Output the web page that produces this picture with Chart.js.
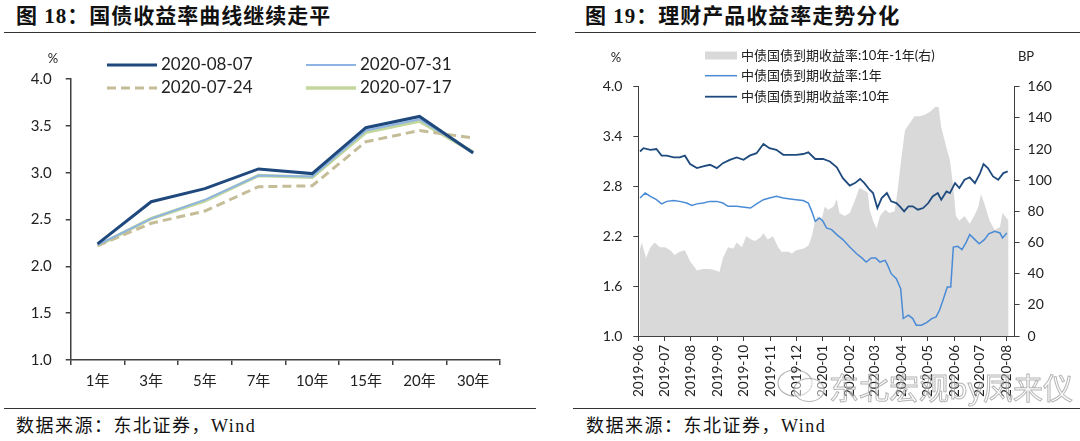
<!DOCTYPE html>
<html>
<head>
<meta charset="utf-8">
<script src="https://cdn.jsdelivr.net/npm/chart.js@4.4.0/dist/chart.umd.min.js"></script>
<style>
    body { margin: 0; width: 1080px; height: 441px; background: #fff; position: relative; overflow: hidden; }
    .title { position: absolute; top: 4px; font: bold 21px "Liberation Serif", "Noto Sans CJK SC"; line-height: 24px; letter-spacing: 1px; color: #111; white-space: nowrap; }
    .rule { position: absolute; height: 0; border-top: 1.5px solid #333; }
    .source { position: absolute; top: 414px; font: 18px "Liberation Serif", "Noto Sans CJK SC"; line-height: 24px; letter-spacing: 1.5px; color: #111; white-space: nowrap; }
    .watermark { position: absolute; left: 829px; top: 368px; font: 30px "Noto Sans CJK SC"; line-height: 36px; color: rgba(255,255,255,0.3); -webkit-text-stroke: 1px rgba(150,150,150,0.7); white-space: nowrap; }
    canvas { position: absolute; top: 0; }
</style>
</head>
<body>
<div class="title" style="left:16px">图 18：国债收益率曲线继续走平</div>
<div class="title" style="left:585px">图 19：理财产品收益率走势分化</div>
<div class="rule" style="left:4px; width:532px; top:32px"></div>
<div class="rule" style="left:575px; width:505px; top:32px"></div>
<div class="rule" style="left:4px; width:532px; top:408px"></div>
<div class="rule" style="left:573px; width:507px; top:408px"></div>
<div class="source" style="left:16px">数据来源：东北证券，Wind</div>
<div class="source" style="left:586px">数据来源：东北证券，Wind</div>

<canvas id="curve-chart" width="540" height="441" style="left:0"></canvas>
<canvas id="trend-chart" width="540" height="441" style="left:540px"></canvas>

<svg style="position:absolute; left:776px; top:368px" width="52" height="36">
    <ellipse cx="19" cy="15" rx="17" ry="13" fill="none" stroke="rgba(150,150,150,0.7)" stroke-width="1.2"/>
    <ellipse cx="33" cy="22" rx="15" ry="11.5" fill="rgba(255,255,255,0.5)" stroke="rgba(150,150,150,0.7)" stroke-width="1.2"/>
</svg>
<div class="watermark">东北宏观by凤来仪</div>

<script>
const FONT = 'Lato, "Noto Sans CJK SC", sans-serif';

/* figure 18 data: yield curves */
const tenors = ["1年", "3年", "5年", "7年", "10年", "15年", "20年", "30年"];
const curve0807 = [2.24, 2.69, 2.83, 3.04, 2.99, 3.48, 3.60, 3.21];
const curve0731 = [2.23, 2.51, 2.71, 2.97, 2.96, 3.45, 3.57, 3.22];
const curve0724 = [2.22, 2.46, 2.59, 2.85, 2.86, 3.33, 3.45, 3.37];
const curve0717 = [2.22, 2.51, 2.70, 2.97, 2.95, 3.43, 3.55, 3.22];

/* figure 19 data: 1y / 10y yields and the spread */
const monthLabels = ["2019-06", "2019-07", "2019-08", "2019-09", "2019-10", "2019-11", "2019-12",
    "2020-01", "2020-02", "2020-03", "2020-04", "2020-05", "2020-06", "2020-07", "2020-08"];
const leftTicks = [1.0, 1.6, 2.2, 2.8, 3.4, 4.0];

const yield10yDates = ["2019-06-03", "2019-06-07", "2019-06-15", "2019-06-22", "2019-06-28", "2019-07-04", "2019-07-12",
    "2019-07-19", "2019-07-25", "2019-07-31", "2019-08-08", "2019-08-15", "2019-08-23", "2019-08-31", "2019-09-07",
    "2019-09-15", "2019-09-23", "2019-10-01", "2019-10-08", "2019-10-16", "2019-10-24", "2019-10-31", "2019-11-08",
    "2019-11-16", "2019-11-24", "2019-12-01", "2019-12-09", "2019-12-15", "2019-12-23", "2020-01-01", "2020-01-09",
    "2020-01-17", "2020-01-24", "2020-02-01", "2020-02-07", "2020-02-13", "2020-02-18", "2020-02-24", "2020-02-28",
    "2020-03-04", "2020-03-09", "2020-03-15", "2020-03-20", "2020-03-26", "2020-03-30", "2020-04-04", "2020-04-09",
    "2020-04-14", "2020-04-20", "2020-04-26", "2020-05-02", "2020-05-07", "2020-05-13", "2020-05-17", "2020-05-23",
    "2020-05-27", "2020-06-02", "2020-06-07", "2020-06-13", "2020-06-19", "2020-06-25", "2020-07-01", "2020-07-05",
    "2020-07-10", "2020-07-16", "2020-07-22", "2020-07-28", "2020-08-02"];
const yield10y = [3.22, 3.26, 3.24, 3.25, 3.17, 3.17, 3.15, 3.15, 3.17, 3.07, 3.02, 3.04, 3.06, 3.02, 3.08,
    3.12, 3.15, 3.12, 3.17, 3.20, 3.31, 3.26, 3.24, 3.18, 3.18, 3.18, 3.19, 3.21, 3.13, 3.13, 3.10,
    3.03, 2.90, 2.81, 2.84, 2.89, 2.84, 2.76, 2.72, 2.54, 2.66, 2.72, 2.62, 2.60, 2.56, 2.50, 2.56,
    2.56, 2.52, 2.54, 2.60, 2.68, 2.72, 2.64, 2.74, 2.72, 2.84, 2.78, 2.88, 2.91, 2.84, 2.96, 3.07,
    3.02, 2.92, 2.88, 2.96, 2.98];

const yield1yDates = ["2019-06-03", "2019-06-09", "2019-06-15", "2019-06-22", "2019-06-28", "2019-07-04", "2019-07-12",
    "2019-07-19", "2019-07-27", "2019-08-02", "2019-08-08", "2019-08-15", "2019-08-23", "2019-08-31", "2019-09-07",
    "2019-09-13", "2019-09-23", "2019-10-02", "2019-10-09", "2019-10-16", "2019-10-24", "2019-10-31", "2019-11-08",
    "2019-11-16", "2019-11-24", "2019-12-01", "2019-12-09", "2019-12-15", "2019-12-19", "2019-12-23", "2019-12-28",
    "2020-01-01", "2020-01-05", "2020-01-11", "2020-01-17", "2020-01-24", "2020-02-01", "2020-02-09", "2020-02-15",
    "2020-02-20", "2020-02-26", "2020-03-02", "2020-03-07", "2020-03-13", "2020-03-16", "2020-03-20", "2020-03-26",
    "2020-03-31", "2020-04-03", "2020-04-09", "2020-04-14", "2020-04-18", "2020-04-24", "2020-04-30", "2020-05-06",
    "2020-05-11", "2020-05-15", "2020-05-19", "2020-05-24", "2020-05-28", "2020-05-31", "2020-06-05", "2020-06-10",
    "2020-06-15", "2020-06-19", "2020-06-25", "2020-06-30", "2020-07-06", "2020-07-11", "2020-07-18", "2020-07-24",
    "2020-07-27", "2020-08-01"];
const yield1y = [2.66, 2.72, 2.68, 2.64, 2.59, 2.62, 2.63, 2.62, 2.60, 2.57, 2.59, 2.60, 2.62, 2.62, 2.60,
    2.56, 2.56, 2.55, 2.54, 2.59, 2.64, 2.66, 2.68, 2.66, 2.65, 2.64, 2.63, 2.60, 2.50, 2.38, 2.42,
    2.38, 2.30, 2.28, 2.22, 2.16, 2.07, 1.99, 1.94, 1.89, 1.94, 1.94, 1.89, 1.91, 1.85, 1.75, 1.69,
    1.57, 1.21, 1.25, 1.21, 1.13, 1.13, 1.16, 1.21, 1.23, 1.31, 1.43, 1.59, 1.59, 2.07, 2.08, 2.04,
    2.13, 2.22, 2.16, 2.11, 2.16, 2.23, 2.26, 2.24, 2.18, 2.24];

const spreadDates = ["2019-06-03", "2019-06-05", "2019-06-10", "2019-06-15", "2019-06-20", "2019-06-26", "2019-07-02",
    "2019-07-08", "2019-07-13", "2019-07-19", "2019-07-25", "2019-07-31", "2019-08-08", "2019-08-15", "2019-08-23",
    "2019-08-30", "2019-09-03", "2019-09-07", "2019-09-13", "2019-09-19", "2019-09-23", "2019-09-29", "2019-10-04",
    "2019-10-10", "2019-10-14", "2019-10-20", "2019-10-24", "2019-10-29", "2019-11-04", "2019-11-10", "2019-11-14",
    "2019-11-22", "2019-11-26", "2019-12-01", "2019-12-09", "2019-12-15", "2019-12-19", "2019-12-23", "2019-12-26",
    "2019-12-30", "2020-01-03", "2020-01-07", "2020-01-13", "2020-01-17", "2020-01-20", "2020-01-26", "2020-02-01",
    "2020-02-07", "2020-02-12", "2020-02-16", "2020-02-22", "2020-02-24", "2020-02-28", "2020-03-03", "2020-03-07",
    "2020-03-13", "2020-03-18", "2020-03-24", "2020-03-28", "2020-04-01", "2020-04-05", "2020-04-11", "2020-04-16",
    "2020-04-22", "2020-04-28", "2020-05-04", "2020-05-10", "2020-05-14", "2020-05-17", "2020-05-23", "2020-05-27",
    "2020-05-31", "2020-06-03", "2020-06-07", "2020-06-13", "2020-06-19", "2020-06-25", "2020-06-29", "2020-07-02",
    "2020-07-06", "2020-07-12", "2020-07-18", "2020-07-24", "2020-07-27", "2020-08-03"];
const spreadBP = [56, 60, 50, 57, 60, 57, 57, 55, 52, 54, 55, 48, 42, 43, 43,
    42, 41, 50, 57, 56, 60, 57, 64, 62, 61, 63, 66, 62, 64, 57, 54,
    54, 53, 55, 56, 58, 64, 74, 77, 74, 83, 81, 83, 88, 79, 77, 79,
    87, 95, 94, 92, 81, 74, 69, 77, 81, 79, 80, 96, 115, 132, 137, 141,
    141, 142, 144, 147, 147, 134, 121, 113, 96, 77, 74, 77, 72, 78, 83, 91,
    85, 74, 68, 70, 79, 74];

/*
    legend drawn at fixed spots, reading colours from the datasets
*/
const fixedLegend = {
    id: "fixedLegend",
    afterDraw(chart, args, opts) {
        const ctx = chart.ctx;
        ctx.save();
        ctx.font = opts.font;
        ctx.textBaseline = "middle";
        opts.items.forEach(item => {
            const ds = chart.data.datasets[item.dataset];
            if (item.box) {
                ctx.fillStyle = ds.backgroundColor;
                ctx.fillRect(item.x, item.y - item.box / 2, opts.symbolWidth, item.box);
            } else {
                ctx.beginPath();
                ctx.strokeStyle = ds.borderColor;
                ctx.lineWidth = ds.borderWidth;
                ctx.setLineDash(ds.borderDash || []);
                ctx.moveTo(item.x, item.y);
                ctx.lineTo(item.x + opts.symbolWidth, item.y);
                ctx.stroke();
                ctx.setLineDash([]);
            }
            ctx.fillStyle = opts.color;
            ctx.textAlign = "left";
            ctx.fillText(ds.label, item.x + opts.symbolWidth + opts.gap, item.y);
        });
        ctx.font = opts.unitFont;
        ctx.textAlign = "center";
        opts.units.forEach(u => ctx.fillText(u.text, u.x, u.y));
        ctx.restore();
    }
};

const axisGrid = { drawOnChartArea: false, drawTicks: true, tickLength: 5, color: "#404040" };

/*
    figure 18: yield curve
*/
const curveCtx = document.getElementById("curve-chart").getContext("2d");
new Chart(curveCtx, {
    type: "line",
    data: {
        labels: tenors,
        datasets: [
            { label: "2020-08-07", data: curve0807, borderColor: "#1F497D", borderWidth: 3 },
            { label: "2020-07-31", data: curve0731, borderColor: "#8DB4E2", borderWidth: 2 },
            { label: "2020-07-24", data: curve0724, borderColor: "#C4BD97", borderWidth: 3, borderDash: [9, 5] },
            { label: "2020-07-17", data: curve0717, borderColor: "#C3D69B", borderWidth: 3.5 }
        ]
    },
    options: {
        responsive: false,
        animation: false,
        devicePixelRatio: 1,
        elements: { point: { radius: 0 }, line: { tension: 0 } },
        layout: { padding: { left: 0, right: 40, top: 79, bottom: 0 } },
        scales: {
            x: {
                offset: true,
                grid: { ...axisGrid, offset: true, lineWidth: 1.5 },
                border: { color: "#404040", width: 1.5 },
                ticks: { font: { family: FONT, size: 15 }, color: "#222", padding: 7, maxRotation: 0 },
                afterFit(scale) { scale.height = 81; }
            },
            y: {
                min: 1,
                max: 4,
                grid: { ...axisGrid, lineWidth: 1.5 },
                border: { color: "#404040", width: 1.5 },
                ticks: { stepSize: 0.5, font: { family: FONT, size: 15 }, color: "#222", padding: 14,
                    callback: v => v.toFixed(1) },
                afterFit(scale) { scale.width = 70.7; }
            }
        },
        plugins: {
            legend: { display: false },
            tooltip: { enabled: false },
            fixedLegend: {
                font: "17px " + FONT,
                unitFont: "13px " + FONT,
                color: "#222",
                symbolWidth: 50,
                gap: 4,
                items: [
                    { dataset: 0, x: 107, y: 65 },
                    { dataset: 1, x: 306, y: 65 },
                    { dataset: 2, x: 107, y: 88 },
                    { dataset: 3, x: 306, y: 88 }
                ],
                units: [{ text: "%", x: 53, y: 59 }]
            }
        }
    },
    plugins: [fixedLegend]
});

/*
    figure 19: 1y, 10y and spread
*/
function toDay(dateStr) {
    const [y, m, d] = dateStr.split("-").map(Number);
    return (Date.UTC(y, m - 1, d || 1) - Date.UTC(2019, 5, 1)) / 86400000;
}

function toPoints(dates, values) {
    return dates.map((d, i) => ({ x: toDay(d), y: values[i] }));
}

const monthDays = monthLabels.map(toDay);

const trendCtx = document.getElementById("trend-chart").getContext("2d");
new Chart(trendCtx, {
    type: "line",
    data: {
        datasets: [
            { label: "中债国债到期收益率:10年-1年(右)", data: toPoints(spreadDates, spreadBP), yAxisID: "y1",
              backgroundColor: "#D9D9D9", borderColor: "#D9D9D9", borderWidth: 0, fill: "origin", order: 3 },
            { label: "中债国债到期收益率:1年", data: toPoints(yield1yDates, yield1y), yAxisID: "y",
              borderColor: "#4A8BD6", borderWidth: 1.5, order: 2 },
            { label: "中债国债到期收益率:10年", data: toPoints(yield10yDates, yield10y), yAxisID: "y",
              borderColor: "#1F4A7E", borderWidth: 1.8, order: 1 }
        ]
    },
    options: {
        responsive: false,
        animation: false,
        devicePixelRatio: 1,
        elements: { point: { radius: 0 }, line: { tension: 0 } },
        layout: { padding: { left: 0, right: 0, top: 86.7, bottom: 0 } },
        scales: {
            x: {
                type: "linear",
                min: 0,
                max: 436,
                grid: axisGrid,
                border: { color: "#404040", width: 1 },
                afterBuildTicks(scale) { scale.ticks = monthDays.map(v => ({ value: v })); },
                ticks: { autoSkip: false, minRotation: 90, maxRotation: 90, padding: 4,
                    font: { family: FONT, size: 13.5 }, color: "#222",
                    callback: v => monthLabels[monthDays.indexOf(v)] },
                afterFit(scale) { scale.height = 105; }
            },
            y: {
                position: "left",
                min: 1,
                max: 4,
                grid: axisGrid,
                border: { color: "#404040", width: 1 },
                afterBuildTicks(scale) { scale.ticks = leftTicks.map(v => ({ value: v })); },
                ticks: { font: { family: FONT, size: 14 }, color: "#222", padding: 11,
                    callback: v => v.toFixed(1) },
                afterFit(scale) { scale.width = 98.3; }
            },
            y1: {
                position: "right",
                min: 0,
                max: 160,
                grid: axisGrid,
                border: { color: "#404040", width: 1 },
                ticks: { stepSize: 20, font: { family: FONT, size: 14 }, color: "#222", padding: 8 },
                afterFit(scale) { scale.width = 65.4; }
            }
        },
        plugins: {
            legend: { display: false },
            tooltip: { enabled: false },
            fixedLegend: {
                font: "13px " + FONT,
                unitFont: "13px " + FONT,
                color: "#222",
                symbolWidth: 32,
                gap: 4,
                items: [
                    { dataset: 0, x: 165, y: 55.5, box: 8 },
                    { dataset: 1, x: 165, y: 75.7 },
                    { dataset: 2, x: 165, y: 96.7 }
                ],
                units: [{ text: "%", x: 76, y: 58 }, { text: "BP", x: 486, y: 57 }]
            }
        }
    },
    plugins: [fixedLegend]
});
</script>
</body>
</html>
